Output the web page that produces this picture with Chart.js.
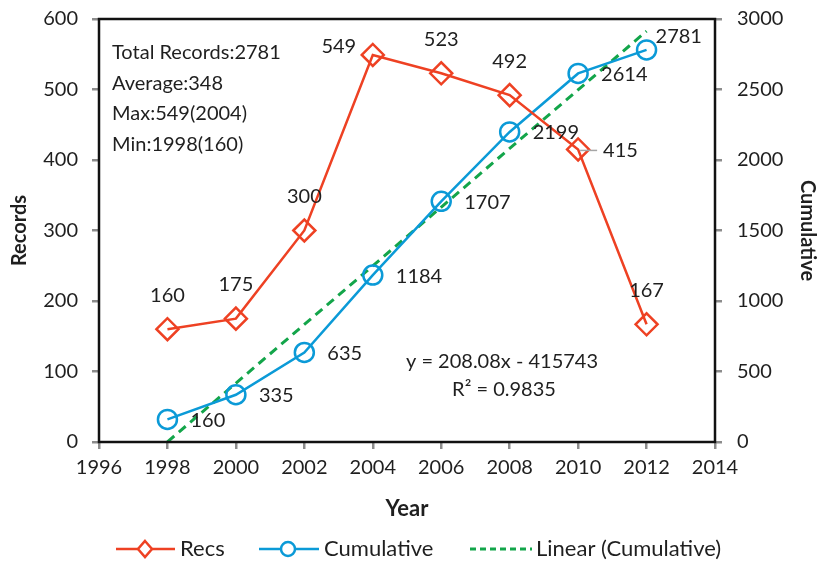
<!DOCTYPE html>
<html>
<head>
<meta charset="utf-8">
<script src="https://cdn.jsdelivr.net/npm/chart.js@4/dist/chart.umd.min.js"></script>
<style>
  html, body { margin: 0; padding: 0; background: #fff; }
  #wrap { width: 819px; height: 561px; }
</style>
</head>
<body>
<div id="wrap"><canvas id="grafico" width="819" height="561"></canvas></div>
<script>
// Datos
const years = [1998, 2000, 2002, 2004, 2006, 2008, 2010, 2012];
const recs = [160, 175, 300, 549, 523, 492, 415, 167];
const cumulative = [160, 335, 635, 1184, 1707, 2199, 2614, 2781];
// Extremos de la línea de tendencia tal como aparecen dibujados
const trendYears = [1998, 2012];
const trendValues = [1, 2914];
const statsLines = ["Total Records:2781", "Average:348", "Max:549(2004)", "Min:1998(160)"];
const trendText = ["y = 208.08x - 415743", "R\u00b2 = 0.9835"];
const legendLabels = ["Recs", "Cumulative", "Linear (Cumulative)"];

// Dónde va cada etiqueta respecto a su punto
const recsLabelSide = ["above", "above", "above", "left", "above", "above", "right", "above"];
const cumLabelSide = ["right", "right", "right", "right", "right", "right", "right", "upright"];

const ROJO = "#ee4123";
const AZUL = "#0b9ad7";
const VERDE = "#13a54a";
const TEXTO = "#1f1f1f";
const FUENTE = "Lato, 'Open Sans', sans-serif";
const TAM = 20;

const toXY = (xs, ys) => xs.map((x, i) => ({ x, y: ys[i] }));

// Tamaños fijos de los ejes para que el área del gráfico caiga donde en el original
function fijarAncho(w) { return (s) => { s.width = w; s.paddingTop = 0; s.paddingBottom = 0; }; }
function fijarAlto(h) { return (s) => { s.height = h; s.paddingLeft = 0; s.paddingRight = 0; }; }

const marco = {
  id: "marco",
  afterDatasetsDraw(chart) {
    const { ctx, chartArea: a } = chart;
    ctx.save();
    ctx.strokeStyle = "#111";
    ctx.lineWidth = 2.5;
    ctx.strokeRect(a.left, a.top, a.right - a.left, a.bottom - a.top);
    ctx.restore();
  },
};

const etiquetas = {
  id: "etiquetas",
  afterDatasetsDraw(chart) {
    const { ctx, chartArea: a } = chart;
    ctx.save();
    ctx.font = `${TAM}px ${FUENTE}`;
    ctx.fillStyle = TEXTO;
    ctx.textBaseline = "middle";

    chart.getDatasetMeta(0).data.forEach((p, i) => {
      const txt = String(recs[i]);
      const lado = recsLabelSide[i];
      if (lado === "above") {
        ctx.textAlign = "center";
        ctx.fillText(txt, p.x, p.y - 34);
      } else if (lado === "left") {
        ctx.textAlign = "center";
        ctx.fillText(txt, p.x - 34, p.y - 8);
      } else {
        ctx.strokeStyle = "#a6a6a6";
        ctx.lineWidth = 1.5;
        ctx.beginPath();
        ctx.moveTo(p.x + 2, p.y + 1);
        ctx.lineTo(p.x + 19, p.y + 1);
        ctx.stroke();
        ctx.textAlign = "left";
        ctx.fillText(txt, p.x + 25, p.y + 1);
      }
    });

    chart.getDatasetMeta(1).data.forEach((p, i) => {
      const txt = String(cumulative[i]);
      ctx.textAlign = "left";
      if (cumLabelSide[i] === "upright") ctx.fillText(txt, p.x + 9, p.y - 13);
      else ctx.fillText(txt, p.x + 23, p.y + 1);
    });

    // cuadro de resumen
    statsLines.forEach((t, i) => ctx.fillText(t, a.left + 13, a.top + 34 + i * 30.5));

    // ecuación de la tendencia
    ctx.textAlign = "center";
    ctx.fillText(trendText[0], a.left + 403, a.top + 343);
    ctx.fillText(trendText[1], a.left + 405, a.top + 371);
    ctx.restore();
  },
};

const leyenda = {
  id: "leyenda",
  afterDraw(chart) {
    const ctx = chart.ctx;
    const y = 549;
    ctx.save();
    ctx.lineWidth = 2.5;
    ctx.font = `22px ${FUENTE}`;
    ctx.fillStyle = TEXTO;
    ctx.textAlign = "left";
    ctx.textBaseline = "middle";

    // Recs
    ctx.strokeStyle = ROJO;
    ctx.beginPath(); ctx.moveTo(116, y); ctx.lineTo(175, y); ctx.stroke();
    ctx.beginPath();
    ctx.moveTo(145, y - 8); ctx.lineTo(152, y); ctx.lineTo(145, y + 8); ctx.lineTo(138, y); ctx.closePath();
    ctx.fillStyle = "#fff"; ctx.fill(); ctx.stroke();
    ctx.fillStyle = TEXTO;
    ctx.fillText(legendLabels[0], 180, y);

    // Cumulative
    ctx.strokeStyle = AZUL;
    ctx.beginPath(); ctx.moveTo(259, y); ctx.lineTo(319, y); ctx.stroke();
    ctx.beginPath(); ctx.arc(288, y, 7, 0, Math.PI * 2);
    ctx.fillStyle = "#fff"; ctx.fill(); ctx.stroke();
    ctx.fillStyle = TEXTO;
    ctx.fillText(legendLabels[1], 324, y);

    // Linear
    ctx.strokeStyle = VERDE;
    ctx.lineWidth = 3;
    ctx.setLineDash([6, 4]);
    ctx.beginPath(); ctx.moveTo(470, y); ctx.lineTo(532, y); ctx.stroke();
    ctx.setLineDash([]);
    ctx.fillText(legendLabels[2], 536, y);
    ctx.restore();
  },
};

const tickFont = { family: FUENTE, size: TAM };
const tituloFont = { family: FUENTE, size: 20, weight: "bold" };
const rejilla = { drawOnChartArea: false, tickLength: 7, tickColor: "#8c8c8c", lineWidth: 2.5 };

new Chart(document.getElementById("grafico"), {
  type: "line",
  data: {
    datasets: [
      {
        label: legendLabels[0],
        data: toXY(years, recs),
        yAxisID: "y",
        borderColor: ROJO,
        borderWidth: 2.5,
        pointStyle: "rectRot",
        pointRadius: 11,
        pointBorderWidth: 2.5,
        pointBorderColor: ROJO,
        pointBackgroundColor: "rgba(0,0,0,0)",
        tension: 0,
      },
      {
        label: legendLabels[1],
        data: toXY(years, cumulative),
        yAxisID: "y2",
        borderColor: AZUL,
        borderWidth: 2.5,
        pointStyle: "circle",
        pointRadius: 9.5,
        pointBorderWidth: 2.5,
        pointBorderColor: AZUL,
        pointBackgroundColor: "rgba(0,0,0,0)",
        tension: 0,
      },
      {
        label: legendLabels[2],
        data: toXY(trendYears, trendValues),
        yAxisID: "y2",
        borderColor: VERDE,
        borderWidth: 3,
        borderDash: [9, 6],
        pointRadius: 0,
        tension: 0,
      },
    ],
  },
  options: {
    responsive: false,
    animation: false,
    layout: { padding: { top: 19, bottom: 35, left: 0, right: 0 } },
    plugins: { legend: { display: false }, tooltip: { enabled: false } },
    scales: {
      x: {
        type: "linear",
        min: 1996,
        max: 2014,
        afterFit: fijarAlto(84),
        border: { display: false },
        grid: rejilla,
        ticks: { stepSize: 2, color: TEXTO, font: tickFont, padding: 7, maxRotation: 0, callback: (v) => String(v) },
        title: { display: true, text: "Year", color: TEXTO, font: { family: FUENTE, size: 22, weight: "bold" }, padding: { top: 0, bottom: 4 } },
      },
      y: {
        position: "left",
        min: 0,
        max: 600,
        afterFit: fijarAncho(99),
        border: { display: false },
        grid: rejilla,
        ticks: { stepSize: 100, color: TEXTO, font: tickFont, padding: 14, callback: (v) => String(v) },
        title: { display: true, text: "Records", color: TEXTO, font: tituloFont, padding: { top: 8, bottom: 0 } },
      },
      y2: {
        position: "right",
        min: 0,
        max: 3000,
        afterFit: fijarAncho(104),
        border: { display: false },
        grid: rejilla,
        ticks: { stepSize: 500, color: TEXTO, font: tickFont, padding: 15, callback: (v) => String(v) },
        title: { display: true, text: "Cumulative", color: TEXTO, font: tituloFont, padding: { top: 0, bottom: 0 } },
      },
    },
  },
  plugins: [marco, etiquetas, leyenda],
});
</script>
</body>
</html>
